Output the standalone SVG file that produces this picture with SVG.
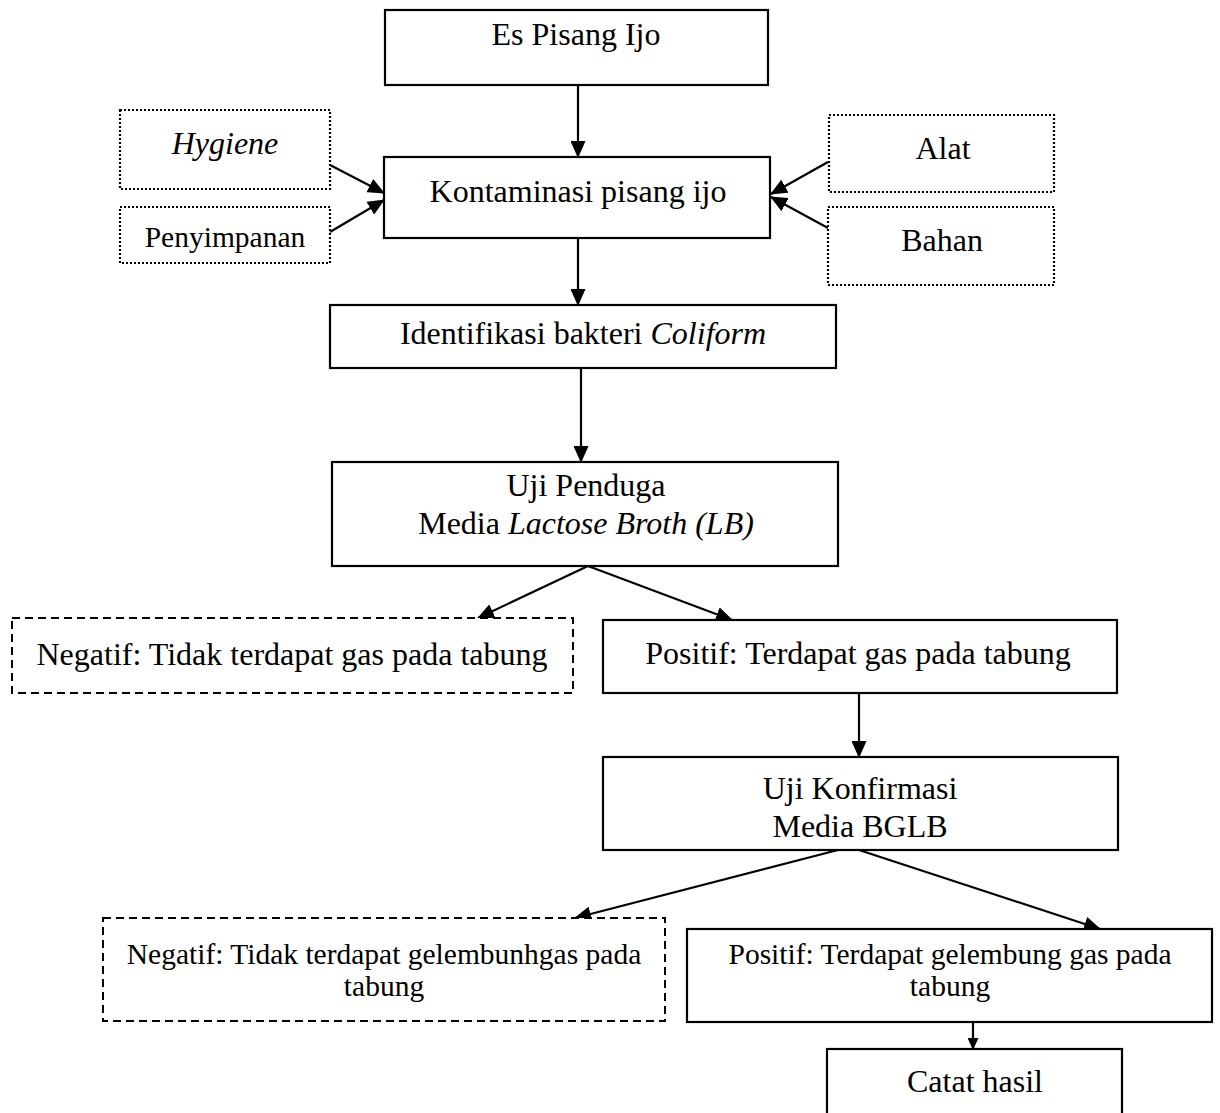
<svg xmlns="http://www.w3.org/2000/svg" width="1220" height="1113" viewBox="0 0 1220 1113">
<style>
.box{fill:#fff;stroke:#000;stroke-width:2.2}
.dot{fill:#fff;stroke:#000;stroke-width:2.2;stroke-dasharray:2 2}
.dash{fill:#fff;stroke:#000;stroke-width:2}
.dash{stroke-dasharray:8 5}
.t{font-family:"Liberation Serif","Times New Roman",serif;font-size:32px;fill:#000;text-anchor:middle}
.s{font-size:29.5px}
.i{font-style:italic}
.c{stroke:#000;stroke-width:2.2;fill:none}
</style>
<defs>
<marker id="ah" markerUnits="userSpaceOnUse" markerWidth="17" markerHeight="15" refX="16" refY="7.5" orient="auto">
<path d="M0,0 L17,7.5 L0,15 z" fill="#000"/>
</marker>
<marker id="ahs" markerUnits="userSpaceOnUse" markerWidth="12" markerHeight="11" refX="11" refY="5.5" orient="auto">
<path d="M0,0 L12,5.5 L0,11 z" fill="#000"/>
</marker>
</defs>
<rect width="1220" height="1113" fill="#fff"/>
<g id="connectors">
<line class="c" x1="578" y1="85" x2="578" y2="157" marker-end="url(#ah)"/>
<line class="c" x1="330" y1="165" x2="384" y2="193" marker-end="url(#ah)"/>
<line class="c" x1="330" y1="232" x2="384" y2="200" marker-end="url(#ah)"/>
<line class="c" x1="828" y1="162" x2="771" y2="194" marker-end="url(#ah)"/>
<line class="c" x1="828" y1="228" x2="771" y2="197" marker-end="url(#ah)"/>
<line class="c" x1="578" y1="238" x2="578" y2="305" marker-end="url(#ah)"/>
<line class="c" x1="581" y1="368" x2="581" y2="462" marker-end="url(#ah)"/>
<line class="c" x1="588" y1="566" x2="478" y2="618" marker-end="url(#ah)"/>
<line class="c" x1="588" y1="566" x2="732" y2="620" marker-end="url(#ah)"/>
<line class="c" x1="859" y1="693" x2="859" y2="757" marker-end="url(#ah)"/>
<line class="c" x1="838" y1="850" x2="575" y2="918" marker-end="url(#ah)"/>
<line class="c" x1="859" y1="850" x2="1100" y2="929" marker-end="url(#ah)"/>
<line class="c" x1="973" y1="1022" x2="973" y2="1049" marker-end="url(#ahs)"/>
</g>
<g id="es-pisang-ijo"><rect class="box" x="385" y="10" width="383" height="75"/><text class="t" x="576" y="45">Es Pisang Ijo</text></g>
<g id="hygiene"><rect class="dot" x="120" y="110" width="210" height="79"/><text class="t i" x="225" y="154">Hygiene</text></g>
<g id="penyimpanan"><rect class="dot" x="120" y="207" width="210" height="56"/><text class="t s" x="225" y="247">Penyimpanan</text></g>
<g id="kontaminasi"><rect class="box" x="384" y="157" width="386" height="81"/><text class="t" x="578" y="202">Kontaminasi pisang ijo</text></g>
<g id="alat"><rect class="dot" x="829" y="115" width="225" height="77"/><text class="t" x="943" y="159">Alat</text></g>
<g id="bahan"><rect class="dot" x="828" y="207" width="226" height="78"/><text class="t" x="942" y="251">Bahan</text></g>
<g id="identifikasi"><rect class="box" x="330" y="305" width="506" height="63"/><text class="t" x="583" y="344">Identifikasi bakteri <tspan class="i">Coliform</tspan></text></g>
<g id="uji-penduga"><rect class="box" x="332" y="462" width="506" height="104"/><text class="t" x="586" y="496">Uji Penduga</text><text class="t" x="586" y="534">Media <tspan class="i">Lactose Broth (LB)</tspan></text></g>
<g id="negatif-1"><rect class="dash" x="12" y="618" width="561" height="75"/><text class="t" x="292" y="665">Negatif: Tidak terdapat gas pada tabung</text></g>
<g id="positif-1"><rect class="box" x="603" y="620" width="514" height="73"/><text class="t" x="858" y="664">Positif: Terdapat gas pada tabung</text></g>
<g id="uji-konfirmasi"><rect class="box" x="603" y="757" width="515" height="93"/><text class="t" x="860" y="799">Uji Konfirmasi</text><text class="t" x="860" y="837">Media BGLB</text></g>
<g id="negatif-2"><rect class="dash" x="103" y="918" width="562" height="103"/><text class="t s" x="384" y="964">Negatif: Tidak terdapat gelembunhgas pada</text><text class="t s" x="384" y="996">tabung</text></g>
<g id="positif-2"><rect class="box" x="687" y="929" width="525" height="93"/><text class="t s" x="950" y="964">Positif: Terdapat gelembung gas pada</text><text class="t s" x="950" y="996">tabung</text></g>
<g id="catat-hasil"><rect class="box" x="827" y="1049" width="295" height="80"/><text class="t" x="975" y="1092">Catat hasil</text></g>
</svg>
